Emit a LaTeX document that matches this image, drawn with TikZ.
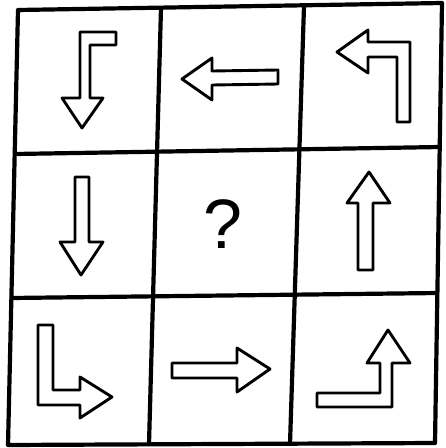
\documentclass[tikz,border=0pt]{standalone}
\usepackage{fontspec}
\newfontfamily\qfont{Liberation Sans}
\tikzset{
  gridline/.style={line width=4.2pt, line join=round},
  hollow/.style={line width=2.9pt, line join=round}
}
\begin{document}
\begin{tikzpicture}[x=1pt, y=-1pt]
        \useasboundingbox (0,0) rectangle (446,448);

        % Outer frame
        \draw[gridline] (18,10) -- (442,3) -- (435,443) -- (8,445) -- cycle;

        % Inner grid lines
        \draw[gridline] (161,8) -- (149,444);
        \draw[gridline] (304,6) -- (290,444);
        \draw[gridline] (15,154) -- (440,147);
        \draw[gridline] (11,298) -- (438,293);

        % Row 1
        \draw[hollow] (80,98) -- (62,98) -- (82,128) -- (103,98) -- (90,98)
            -- (90,45) -- (116,45) -- (116,32) -- (80,32) -- cycle;
        \draw[hollow] (182,79) -- (212,58) -- (212,71) -- (278,70) -- (278,84)
            -- (212,85) -- (212,100) -- cycle;
        \draw[hollow] (337,52) -- (368,30) -- (368,42) -- (410,42) -- (410,122)
            -- (397,122) -- (397,57) -- (368,57) -- (368,73) -- cycle;

        % Row 2
        \draw[hollow] (75,177) -- (89,177) -- (89,242) -- (103,242) -- (81,275)
            -- (60,242) -- (75,242) -- cycle;
        \node[font=\qfont\fontsize{70}{70}\selectfont] (qmark) at (223,224) {?};
        \draw[hollow] (369,172) -- (390,203) -- (373,203) -- (373,270) -- (358,270)
            -- (358,203) -- (347,203) -- cycle;

        % Row 3
        \draw[hollow] (38,325) -- (53,325) -- (53,390) -- (80,390) -- (80,377)
            -- (112,397) -- (80,418) -- (80,405) -- (38,405) -- cycle;
        \draw[hollow] (172,363) -- (237,363) -- (237,348) -- (270,369) -- (237,392)
            -- (237,378) -- (172,378) -- cycle;
        \draw[hollow] (388,330) -- (410,363) -- (392,363) -- (392,407) -- (317,407)
            -- (317,393) -- (380,393) -- (380,363) -- (367,363) -- cycle;
\end{tikzpicture}
\end{document}
